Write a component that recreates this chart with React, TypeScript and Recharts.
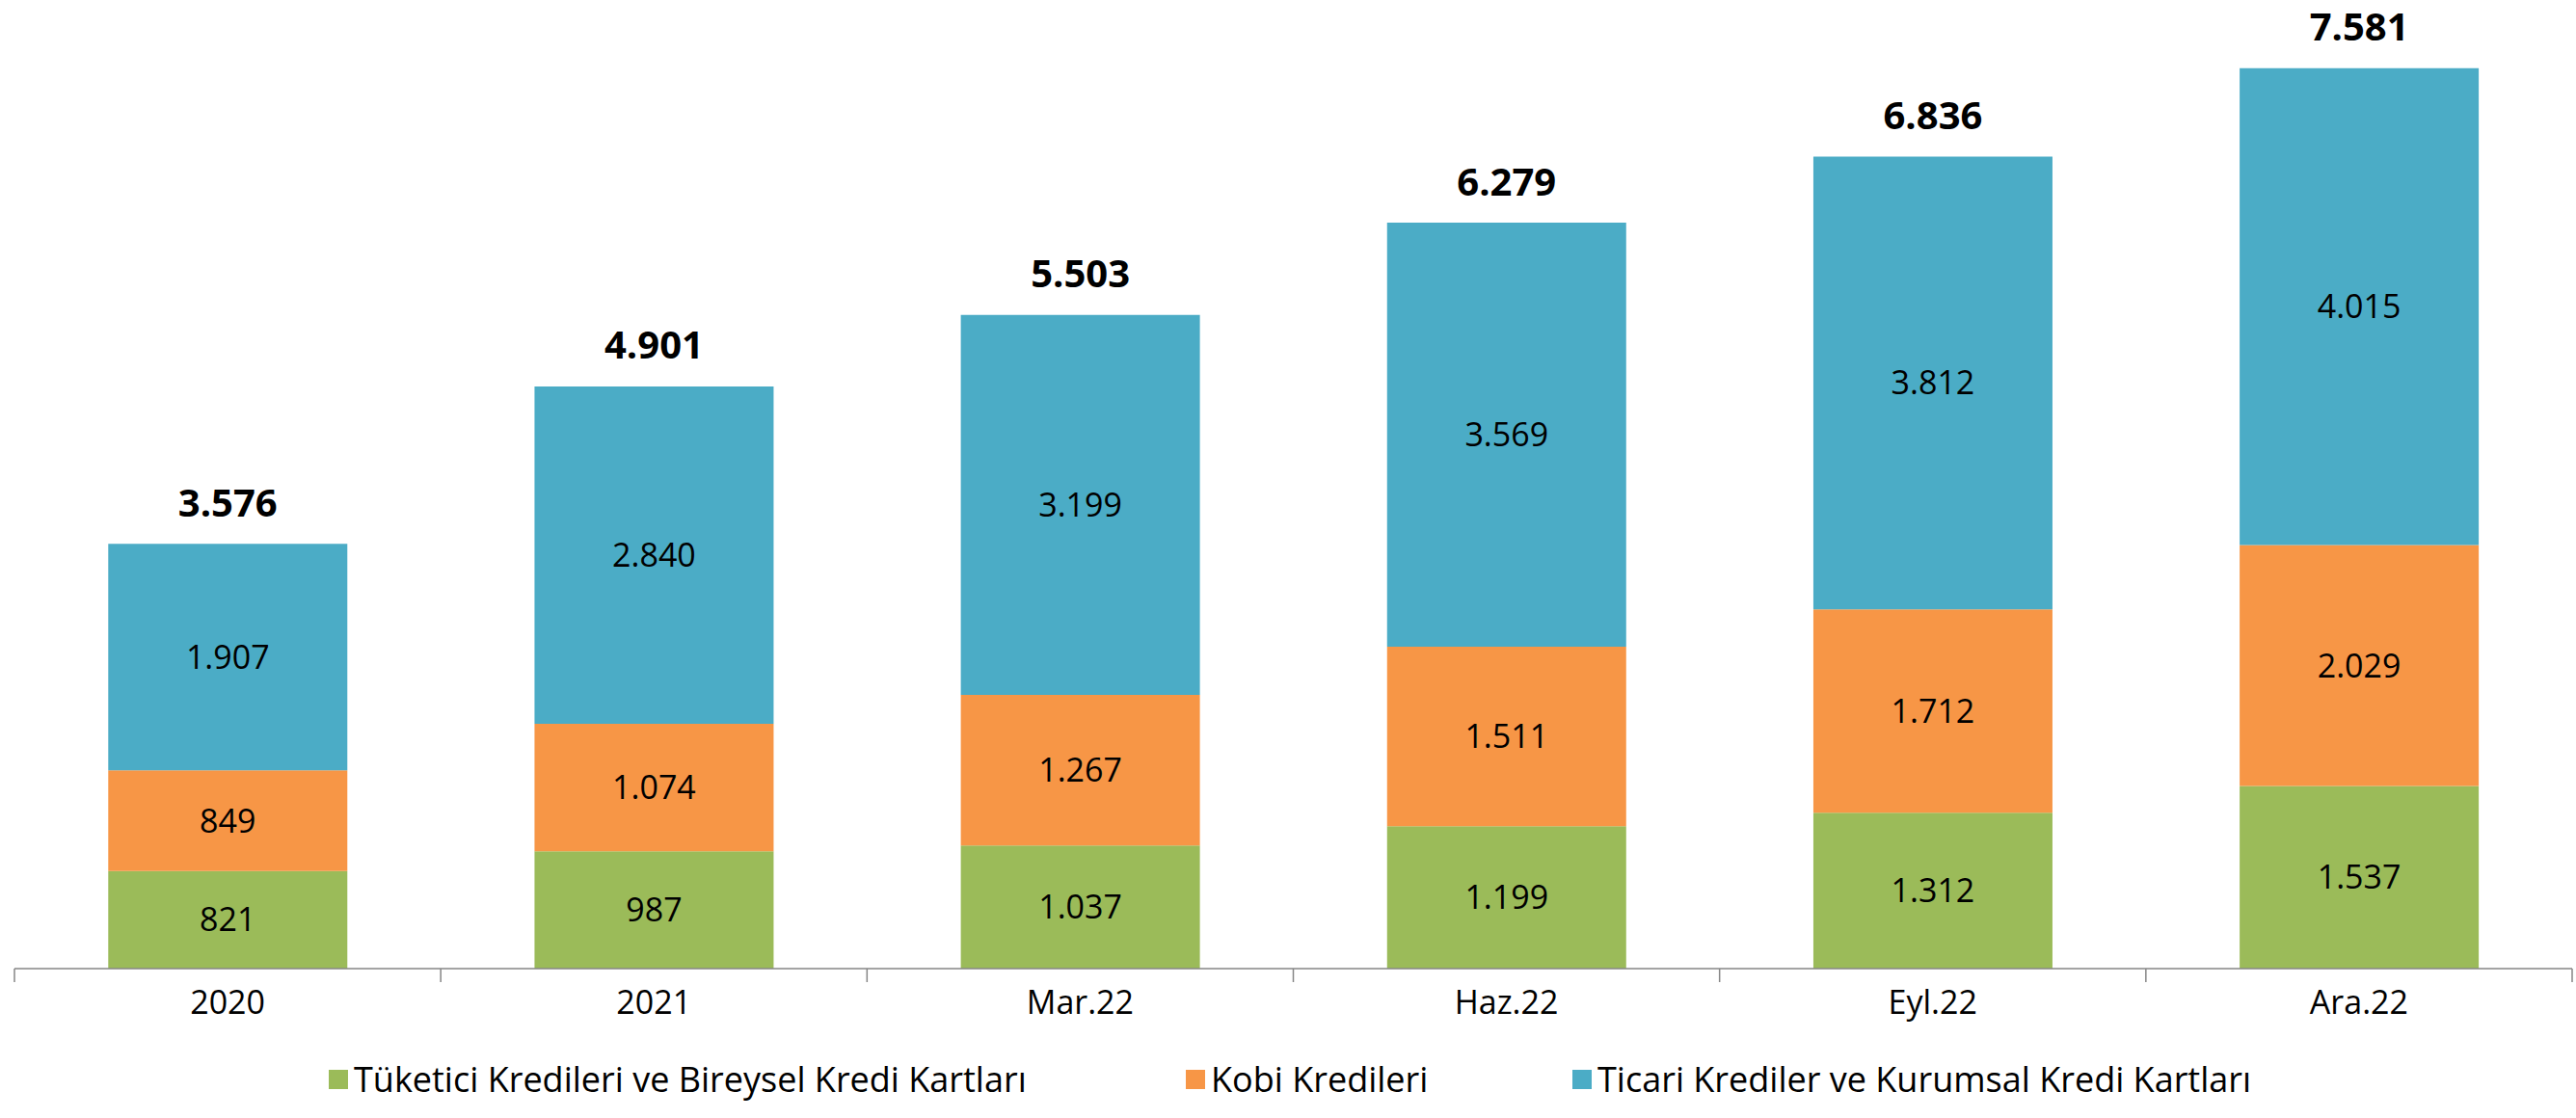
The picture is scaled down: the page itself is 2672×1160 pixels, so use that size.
import { Bar, BarChart, LabelList, Legend, XAxis, YAxis } from "recharts";

const categories = ["2020", "2021", "Mar.22", "Haz.22", "Eyl.22", "Ara.22"];
const tuketici = [821, 987, 1037, 1199, 1312, 1537];
const kobi = [849, 1074, 1267, 1511, 1712, 2029];
const ticari = [1907, 2840, 3199, 3569, 3812, 4015];
const totals = [3576, 4901, 5503, 6279, 6836, 7581];

const FONT = "'Open Sans', 'Noto Sans', sans-serif";

const seriesInfo = [
  { key: "tuketici", name: "Tüketici Kredileri ve Bireysel Kredi Kartları", color: "#9BBB59", itemWidth: 889 },
  { key: "kobi", name: "Kobi Kredileri", color: "#F79646", itemWidth: 401 },
  { key: "ticari", name: "Ticari Krediler ve Kurumsal Kredi Kartları", color: "#4BACC6", itemWidth: 800 },
];

function formatTr(v: number): string {
  return String(v).replace(/\B(?=(\d{3})+(?!\d))/g, ".");
}

const data = categories.map((name, i) => ({
  name,
  tuketici: tuketici[i],
  kobi: kobi[i],
  ticari: ticari[i],
  total: totals[i],
}));

// Excel-style axis: tick marks on category boundaries, label in the middle
function CategoryTick(props: any) {
  const { x, y, payload, index } = props;
  const half = payload.offset ?? 0;
  const last = index === categories.length - 1;
  return (
    <g>
      <line x1={x - half} y1={y - 8} x2={x - half} y2={y + 6} stroke="#868686" strokeWidth={1.5} />
      {last && (
        <line x1={x + half} y1={y - 8} x2={x + half} y2={y + 6} stroke="#868686" strokeWidth={1.5} />
      )}
      <text
        x={x}
        y={y + 26}
        textAnchor="middle"
        dominantBaseline="central"
        fontFamily={FONT}
        fontSize={34}
        fill="#000"
      >
        {payload.value}
      </text>
    </g>
  );
}

function TotalLabel(props: any) {
  const { x, y, width, index } = props;
  return (
    <text
      x={x + width / 2}
      y={y - 44}
      textAnchor="middle"
      dominantBaseline="central"
      fontFamily={FONT}
      fontSize={40}
      fontWeight="bold"
      fill="#000"
    >
      {formatTr(totals[index])}
    </text>
  );
}

function LegendContent() {
  return (
    <div
      style={{
        display: "flex",
        alignItems: "center",
        fontFamily: FONT,
        fontSize: 36,
        color: "#000",
        paddingLeft: 326,
        whiteSpace: "nowrap",
      }}
    >
      {seriesInfo.map((s) => (
        <div key={s.key} style={{ display: "flex", alignItems: "center", width: s.itemWidth }}>
          <span
            style={{ width: 20, height: 20, background: s.color, display: "inline-block", marginRight: 6 }}
          />
          <span>{s.name}</span>
        </div>
      ))}
    </div>
  );
}

export default function App() {
  return (
    <div style={{ position: "absolute", left: 0, top: 0, background: "#fff" }}>
      <BarChart
        width={2672}
        height={1160}
        data={data}
        margin={{ top: 19, right: 4, left: 15, bottom: 0 }}
        barCategoryGap="22%"
      >
        <XAxis
          dataKey="name"
          axisLine={{ stroke: "#868686", strokeWidth: 1.5 }}
          tickLine={false}
          tick={<CategoryTick />}
          height={90}
          interval={0}
        />
        <YAxis hide domain={[0, 8000]} />
        <Legend verticalAlign="bottom" height={65} content={<LegendContent />} />
        {seriesInfo.map((s) => (
          <Bar
            key={s.key}
            dataKey={s.key}
            name={s.name}
            stackId="a"
            fill={s.color}
            isAnimationActive={false}
          >
            <LabelList
              dataKey={s.key}
              position="center"
              formatter={(v: any) => formatTr(Number(v))}
              fill="#000"
              fontFamily={FONT}
              fontSize={34}
            />
            {s.key === "ticari" && <LabelList dataKey="total" content={<TotalLabel />} />}
          </Bar>
        ))}
      </BarChart>
    </div>
  );
}
